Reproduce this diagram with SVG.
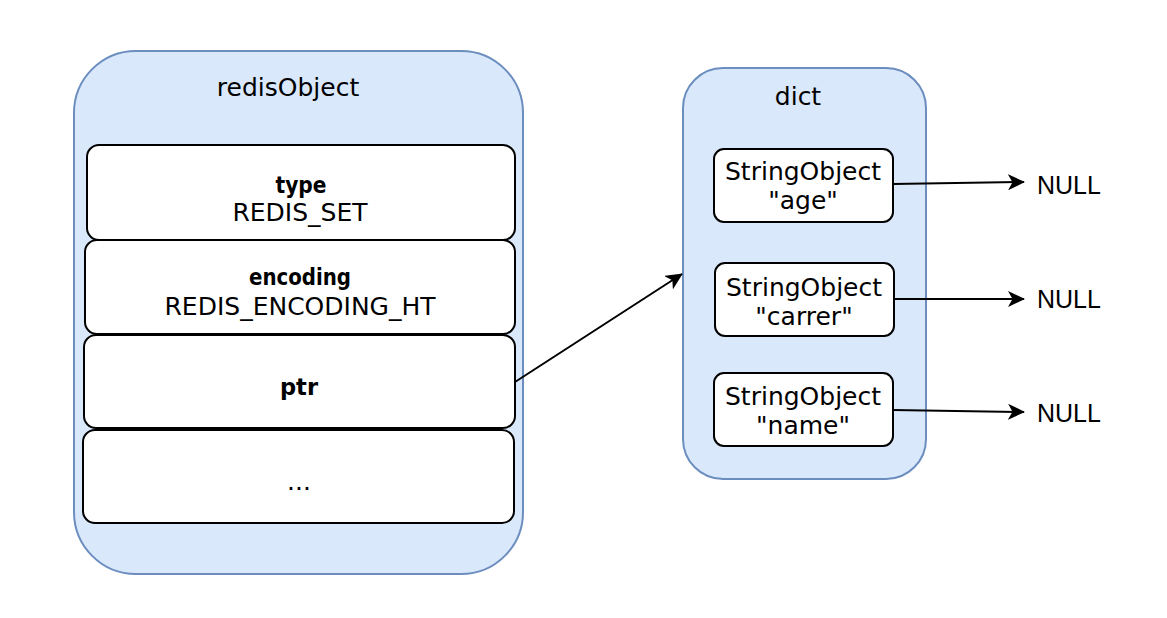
<svg xmlns="http://www.w3.org/2000/svg" width="1167" height="618" viewBox="0 0 1167 618">
<style>
.cont{fill:#dae8fc;stroke:#6c8ebf;stroke-width:2}
.box{fill:#ffffff;stroke:#000000;stroke-width:2}
.t{font-family:"DejaVu Sans",sans-serif;font-size:25px;fill:#000;text-anchor:middle}
.t.b{font-weight:bold;font-size:23px}
.n{font-family:"Liberation Sans",Arial,sans-serif;font-size:25px;fill:#000}
.edge{fill:none;stroke:#000;stroke-width:2}
</style>
<defs>
<marker id="arr" viewBox="0 0 17 16" refX="16" refY="8" markerWidth="17" markerHeight="16" markerUnits="userSpaceOnUse" orient="auto">
<path d="M0,0 L17,8 L0,16 L4.5,8 Z" fill="#000"/>
</marker>
</defs>
<g id="redisObject">
<rect class="cont" x="74" y="51" width="449" height="523" rx="62" ry="62"/>
<text class="t" x="288" y="96">redisObject</text>
</g>
<g id="type">
<rect class="box" x="87" y="145" width="428" height="95" rx="12" ry="12"/>
<text class="t b" x="301" y="193" textLength="51" lengthAdjust="spacingAndGlyphs">type</text>
<text class="t" x="300" y="221">REDIS_SET</text>
</g>
<g id="encoding">
<rect class="box" x="85" y="240" width="430" height="94" rx="12" ry="12"/>
<text class="t b" x="300" y="285" textLength="102" lengthAdjust="spacingAndGlyphs">encoding</text>
<text class="t" x="300" y="315">REDIS_ENCODING_HT</text>
</g>
<g id="ptr">
<rect class="box" x="84" y="335" width="431" height="93" rx="12" ry="12"/>
<text class="t b" x="299" y="395" textLength="38" lengthAdjust="spacingAndGlyphs">ptr</text>
</g>
<g id="etc">
<rect class="box" x="83" y="430" width="431" height="93" rx="12" ry="12"/>
<text class="t" x="299" y="490">...</text>
</g>
<g id="dict">
<rect class="cont" x="683" y="68" width="243" height="411" rx="40" ry="40"/>
<text class="t" x="798" y="105">dict</text>
</g>
<g id="so-age">
<rect class="box" x="714" y="149" width="179" height="73" rx="10" ry="10"/>
<text class="t" x="803" y="180">StringObject</text>
<text class="t" x="803" y="209">"age"</text>
</g>
<g id="so-carrer">
<rect class="box" x="715" y="263" width="179" height="73" rx="10" ry="10"/>
<text class="t" x="804" y="296">StringObject</text>
<text class="t" x="804" y="325">"carrer"</text>
</g>
<g id="so-name">
<rect class="box" x="714" y="373" width="179" height="73" rx="10" ry="10"/>
<text class="t" x="803" y="405">StringObject</text>
<text class="t" x="803" y="434">"name"</text>
</g>
<g id="null1"><text class="n" x="1037" y="194">NULL</text></g>
<g id="null2"><text class="n" x="1037" y="308">NULL</text></g>
<g id="null3"><text class="n" x="1037" y="422">NULL</text></g>
<g id="connectors">
<path class="edge" d="M515,382 L682,274" marker-end="url(#arr)"/>
<path class="edge" d="M893,184 L1024,182" marker-end="url(#arr)"/>
<path class="edge" d="M894,299 L1024,299" marker-end="url(#arr)"/>
<path class="edge" d="M893,410 L1024,412" marker-end="url(#arr)"/>
</g>
</svg>
